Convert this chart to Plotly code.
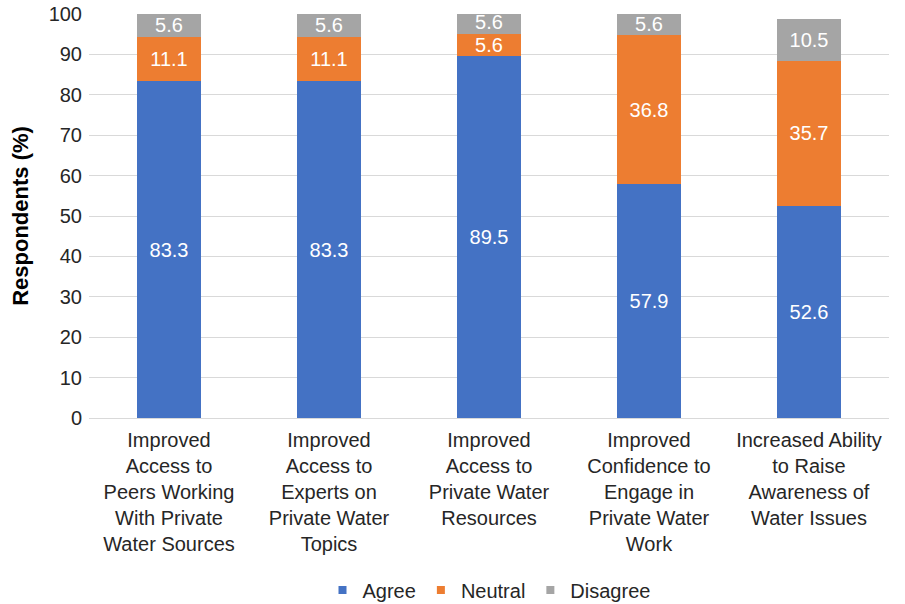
import plotly.graph_objects as go

categories = [
    "Improved<br>Access to<br>Peers Working<br>With Private<br>Water Sources",
    "Improved<br>Access to<br>Experts on<br>Private Water<br>Topics",
    "Improved<br>Access to<br>Private Water<br>Resources",
    "Improved<br>Confidence to<br>Engage in<br>Private Water<br>Work",
    "Increased Ability<br>to Raise<br>Awareness of<br>Water Issues",
]
agree = [83.3, 83.3, 89.5, 57.9, 52.6]
neutral = [11.1, 11.1, 5.6, 36.8, 35.7]
disagree = [5.6, 5.6, 5.6, 5.6, 10.5]
y_ticks = [0, 10, 20, 30, 40, 50, 60, 70, 80, 90, 100]

series = [("Agree", agree, "#4472C4"), ("Neutral", neutral, "#ED7D31"), ("Disagree", disagree, "#A5A5A5")]

FONT = "Liberation Sans, Arial, sans-serif"
FS = 20
fig = go.Figure()
for name, vals, color in series:
    fig.add_trace(go.Bar(
        x=categories, y=vals, name=name, marker_color=color, marker_line_width=0,
        text=[f"{v:.1f}" for v in vals], textposition="inside", insidetextanchor="middle",
        textfont=dict(color="white", size=FS, family=FONT), textangle=0,
        showlegend=False, cliponaxis=True,
    ))
for name, vals, color in series:
    fig.add_trace(go.Scatter(
        x=[None], y=[None], mode="markers", name=name,
        marker=dict(symbol="square", size=8, color=color),
    ))

fig.update_layout(
    barmode="stack", bargap=0.6,
    width=905, height=604,
    margin=dict(l=89, r=16, t=14, b=186, autoexpand=False),
    plot_bgcolor="white", paper_bgcolor="white",
    font=dict(family=FONT, size=FS, color="#262626"),
    uniformtext=dict(minsize=FS, mode="show"),
    legend=dict(orientation="h", x=0.5, xanchor="center", yref="container", y=0.023, yanchor="middle",
                traceorder="normal", font=dict(size=FS, color="#262626"), itemwidth=30, tracegroupgap=0),
    xaxis=dict(showline=True, linecolor="#D9D9D9", linewidth=1, ticks="", automargin=False,
               ticklabelstandoff=4, tickfont=dict(size=FS, color="#262626")),
    yaxis=dict(range=[0, 100], tickvals=y_ticks, showgrid=True, gridcolor="#D9D9D9",
               zeroline=False, ticks="", ticklabelstandoff=6, automargin=False,
               tickfont=dict(size=FS, color="#262626"),
               title=dict(text="<b>Respondents (%)</b>", font=dict(size=22, color="#000000"), standoff=13)),
)
fig.write_html("out.html")
